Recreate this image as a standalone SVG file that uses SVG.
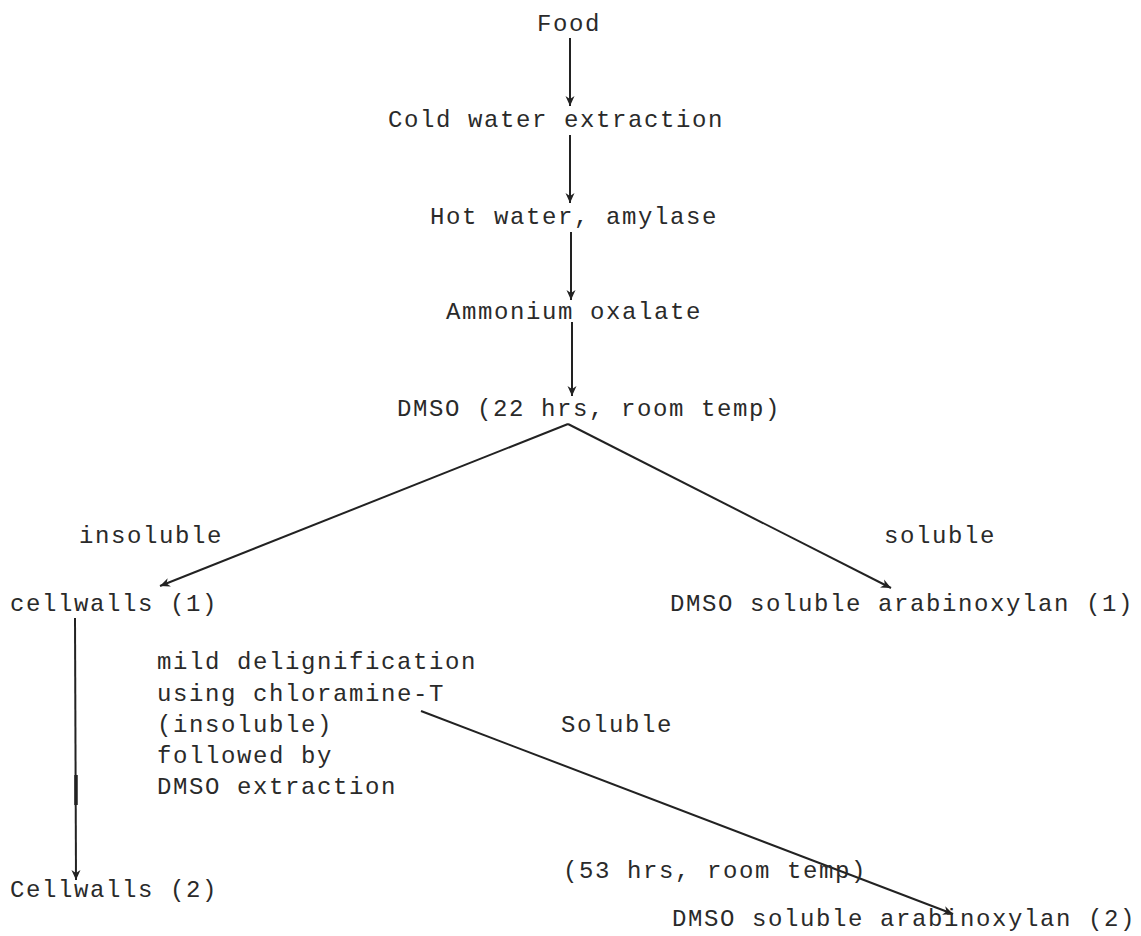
<svg xmlns="http://www.w3.org/2000/svg" width="1141" height="936" viewBox="0 0 1141 936">
<style>
text{font-family:"Liberation Mono","DejaVu Sans Mono",monospace;font-size:24px;letter-spacing:1.6px;fill:#2a2a2a}
.c{stroke:#222;stroke-width:2;fill:none}
</style>
<defs>
<marker id="ah" viewBox="0 0 10 10" refX="10" refY="5" markerWidth="10" markerHeight="10" markerUnits="userSpaceOnUse" orient="auto">
<path d="M0,0.5 L10,5 L0,9.5 L3,5 Z" fill="#222"/>
</marker>
</defs>
<rect width="1141" height="936" fill="#fff"/>
<g id="connectors">
<line class="c" x1="570" y1="38" x2="570" y2="106" marker-end="url(#ah)"/>
<line class="c" x1="570" y1="135" x2="570" y2="203" marker-end="url(#ah)"/>
<line class="c" x1="571" y1="232" x2="571" y2="300" marker-end="url(#ah)"/>
<line class="c" x1="572" y1="322" x2="572" y2="396" marker-end="url(#ah)"/>
<line class="c" x1="568" y1="424" x2="160" y2="586" marker-end="url(#ah)"/>
<line class="c" x1="568" y1="424" x2="891" y2="588" marker-end="url(#ah)"/>
<line class="c" x1="75" y1="618" x2="76" y2="880" marker-end="url(#ah)"/>
<line stroke="#222" stroke-width="3.5" x1="76" y1="775" x2="76" y2="805"/>
<line class="c" x1="421" y1="711" x2="953" y2="914" marker-end="url(#ah)"/>
</g>
<g id="n-food"><text x="537" y="31">Food</text></g>
<g id="n-cold"><text x="388" y="127">Cold water extraction</text></g>
<g id="n-hot"><text x="430" y="224">Hot water, amylase</text></g>
<g id="n-ammonium"><text x="446" y="319">Ammonium oxalate</text></g>
<g id="n-dmso"><text x="397" y="416">DMSO (22 hrs, room temp)</text></g>
<g id="l-insoluble"><text x="79" y="543">insoluble</text></g>
<g id="l-soluble"><text x="884" y="543">soluble</text></g>
<g id="n-cellwalls1"><text x="10" y="611">cellwalls (1)</text></g>
<g id="n-arabinoxylan1"><text x="670" y="611">DMSO soluble arabinoxylan (1)</text></g>
<g id="l-mild">
<text x="157" y="669">mild delignification</text>
<text x="157" y="701">using chloramine-T</text>
<text x="157" y="732">(insoluble)</text>
<text x="157" y="763">followed by</text>
<text x="157" y="794">DMSO extraction</text>
</g>
<g id="l-Soluble"><text x="561" y="732">Soluble</text></g>
<g id="n-cellwalls2"><text x="10" y="897">Cellwalls (2)</text></g>
<g id="l-53hrs"><text x="563" y="878">(53 hrs, room temp)</text></g>
<g id="n-arabinoxylan2"><text x="672" y="926">DMSO soluble arabinoxylan (2)</text></g>
</svg>
